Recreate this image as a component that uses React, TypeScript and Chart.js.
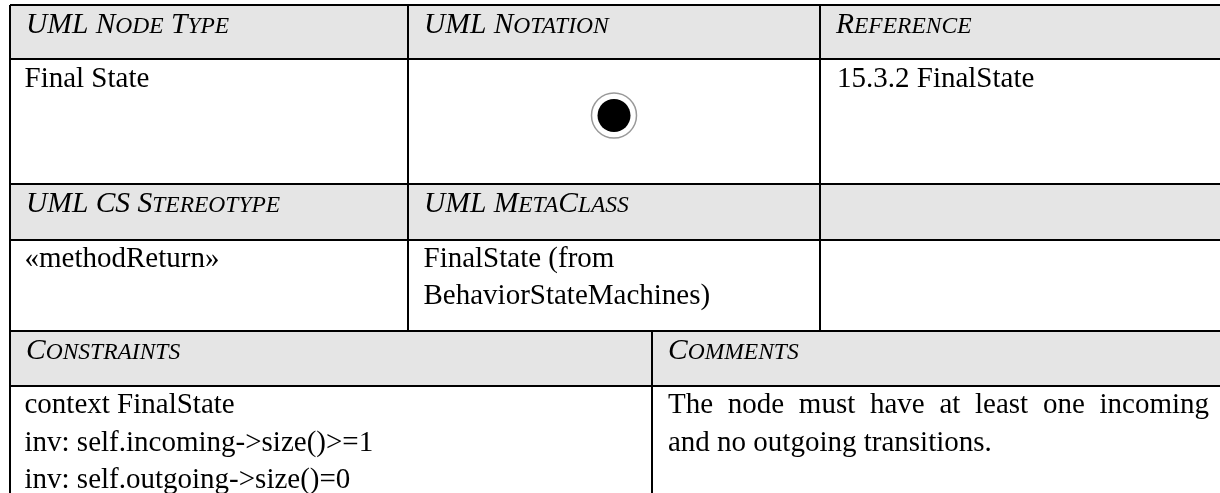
import React, { useEffect, useRef } from "react";
import { Chart, registerables } from "chart.js";

Chart.register(...registerables);

const WIDTH = 1220;
const HEIGHT = 493;

// Table grid (axis values)
const rowEdges = [5, 59, 184, 240, 331, 386, 493];
const columnEdges = [10, 408, 820, 1220];
const lowerSplit = 652;
const shadedRows = [0, 2, 4];

// Text content
const smallCapsLabels = [
  { text: "UML Node Type", x: 26, y: 33 },
  { text: "UML Notation", x: 424, y: 33 },
  { text: "Reference", x: 836, y: 33 },
  { text: "UML CS Stereotype", x: 26, y: 212 },
  { text: "UML MetaClass", x: 424, y: 212 },
  { text: "Constraints", x: 26, y: 359 },
  { text: "Comments", x: 668, y: 359 },
];
const bodyLabels = [
  { text: "Final State", x: 24.5, y: 87 },
  { text: "15.3.2 FinalState", x: 837, y: 87 },
  { text: "«methodReturn»", x: 24.5, y: 267 },
  { text: "FinalState (from", x: 423.5, y: 267 },
  { text: "BehaviorStateMachines)", x: 423.5, y: 304 },
  { text: "context FinalState", x: 24.5, y: 412.5 },
  { text: "inv: self.incoming->size()>=1", x: 24.5, y: 451 },
  { text: "inv: self.outgoing->size()=0", x: 24.5, y: 488 },
  { text: "and no outgoing transitions.", x: 668, y: 451 },
];
const justifiedLabels = [
  { text: "The node must have at least one incoming", x: 668, end: 1209, y: 412.5 },
];
const symbolCenter = { x: 614, y: 115.5 };

const BODY_FONT = "29px 'Liberation Serif'";
const CAP_SIZE = 29.5;
const SMALL_SIZE = 23.5;

const textPlugin = {
  id: "tableText",
  afterDatasetsDraw(chart: any) {
    const { ctx, scales } = chart;
    const px = (v: number) => scales.x.getPixelForValue(v);
    const py = (v: number) => scales.y.getPixelForValue(v);
    ctx.save();
    ctx.fillStyle = "#000";
    ctx.textBaseline = "alphabetic";
    ctx.textAlign = "left";

    for (const l of smallCapsLabels) {
      let cx = px(l.x);
      const runs = l.text.match(/[a-z]+|[^a-z]+/g) || [];
      for (const run of runs) {
        const small = /[a-z]/.test(run);
        ctx.font = `italic ${small ? SMALL_SIZE : CAP_SIZE}px 'Liberation Serif'`;
        const s = run.toUpperCase();
        ctx.fillText(s, cx, py(l.y));
        cx += ctx.measureText(s).width;
      }
    }

    ctx.font = BODY_FONT;
    for (const l of bodyLabels) ctx.fillText(l.text, px(l.x), py(l.y));

    for (const l of justifiedLabels) {
      const words = l.text.split(" ");
      const widths = words.map((w: string) => ctx.measureText(w).width);
      const total = widths.reduce((a: number, b: number) => a + b, 0);
      const gap = (px(l.end) - px(l.x) - total) / (words.length - 1);
      let cx = px(l.x);
      words.forEach((w: string, i: number) => {
        ctx.fillText(w, cx, py(l.y));
        cx += widths[i] + gap;
      });
    }
    ctx.restore();
  },
};

const rule = (x0: number, y0: number, x1: number, y1: number) => ({
  type: "scatter" as const,
  showLine: true,
  data: [{ x: x0, y: y0 }, { x: x1, y: y1 }],
  borderColor: "#000",
  borderWidth: 2,
  pointRadius: 0,
  fill: false,
  order: 1,
});

const right = columnEdges[columnEdges.length - 1];
const left = columnEdges[0];

const bands = shadedRows.map((r) => ({
  type: "line" as const,
  data: [{ x: left, y: rowEdges[r] }, { x: right, y: rowEdges[r] }],
  borderWidth: 0,
  pointRadius: 0,
  backgroundColor: "#e5e5e5",
  fill: { value: rowEdges[r + 1] },
  order: 3,
}));

const horizontalRules = rowEdges.slice(0, -1).map((y) => rule(left, y, right, y));
const verticalRules = [
  rule(left, rowEdges[0], left, rowEdges[6]),
  rule(columnEdges[1], rowEdges[0], columnEdges[1], rowEdges[4]),
  rule(columnEdges[2], rowEdges[0], columnEdges[2], rowEdges[4]),
  rule(lowerSplit, rowEdges[4], lowerSplit, rowEdges[6]),
];

const symbol = [
  {
    type: "scatter" as const,
    data: [symbolCenter],
    pointRadius: 22.5,
    pointBackgroundColor: "#fff",
    pointBorderColor: "#999",
    pointBorderWidth: 1.5,
    order: 2,
  },
  {
    type: "scatter" as const,
    data: [symbolCenter],
    pointRadius: 16.5,
    pointBackgroundColor: "#000",
    pointBorderWidth: 0,
    order: 0,
  },
];

export default function App() {
  const ref = useRef<HTMLCanvasElement>(null);
  useEffect(() => {
    const chart = new Chart(ref.current as HTMLCanvasElement, {
      type: "scatter",
      data: { datasets: [...bands, ...horizontalRules, ...verticalRules, ...symbol] as any },
      options: {
        animation: false,
        responsive: false,
        devicePixelRatio: 1,
        layout: { padding: 0, autoPadding: false },
        plugins: { legend: { display: false }, tooltip: { enabled: false }, title: { display: false } },
        scales: {
          x: { type: "linear", min: 0, max: WIDTH, display: false },
          y: { type: "linear", min: 0, max: HEIGHT, reverse: true, display: false },
        },
      },
      plugins: [textPlugin],
    });
    return () => chart.destroy();
  }, []);
  return (
    <div style={{ position: "fixed", left: 0, top: 0, width: WIDTH, height: HEIGHT, background: "#fff" }}>
      <canvas ref={ref} width={WIDTH} height={HEIGHT} style={{ display: "block" }} />
    </div>
  );
}
